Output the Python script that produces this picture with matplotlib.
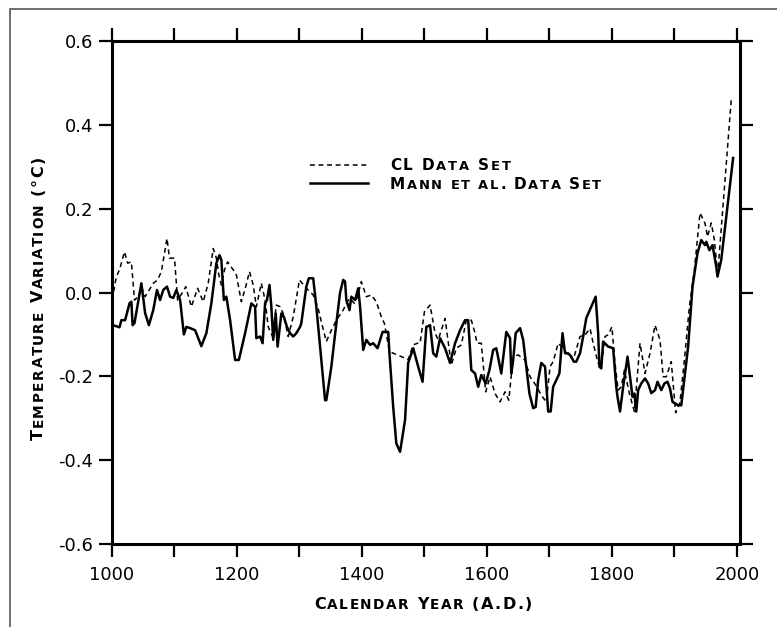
import matplotlib
matplotlib.use("Agg")
import matplotlib.pyplot as plt
from matplotlib.lines import Line2D
from matplotlib.patches import Rectangle
from matplotlib.transforms import IdentityTransform

# ---- data ----
mann_year = [1002, 1012, 1015, 1021, 1028, 1031, 1033, 1036, 1047, 1053, 1059, 1066, 1072,
             1077, 1082, 1088, 1093, 1098, 1103, 1109, 1115, 1119, 1125, 1133, 1143, 1151,
             1159, 1167, 1172, 1175, 1179, 1183, 1189, 1197, 1203, 1213, 1223, 1229, 1231,
             1237, 1241, 1245, 1248, 1252, 1255, 1258, 1262, 1265, 1271, 1275, 1280, 1285,
             1290, 1295, 1301, 1303, 1311, 1315, 1322, 1327, 1333, 1341, 1343, 1351, 1359,
             1365, 1370, 1373, 1375, 1380, 1383, 1389, 1394, 1397, 1402, 1407, 1413, 1418,
             1425, 1433, 1442, 1444, 1450, 1455, 1461, 1469, 1474, 1482, 1490, 1497, 1503,
             1509, 1514, 1519, 1525, 1533, 1541, 1549, 1557, 1565, 1570, 1575, 1581, 1586,
             1591, 1598, 1604, 1610, 1615, 1623, 1631, 1637, 1639, 1642, 1646, 1653, 1658,
             1663, 1668, 1674, 1678, 1682, 1687, 1693, 1698, 1702, 1706, 1711, 1716, 1721,
             1725, 1730, 1735, 1739, 1743, 1749, 1754, 1759, 1767, 1774, 1778, 1780, 1783,
             1786, 1794, 1802, 1807, 1809, 1813, 1818, 1825, 1829, 1833, 1836, 1839, 1842,
             1847, 1853, 1858, 1863, 1869, 1873, 1879, 1884, 1889, 1893, 1897, 1906, 1911,
             1922, 1929, 1937, 1943, 1949, 1951, 1956, 1961, 1967, 1969, 1975, 1994]
mann_temp = [-0.078, -0.083, -0.066, -0.066, -0.026, -0.022, -0.078, -0.073, 0.022, -0.049,
             -0.078, -0.042, 0.006, -0.018, 0.006, 0.014, -0.010, -0.013, 0.006, -0.018,
             -0.100, -0.082, -0.085, -0.090, -0.128, -0.097, -0.026, 0.070, 0.089, 0.078,
             -0.018, -0.010, -0.066, -0.161, -0.161, -0.097, -0.026, -0.034, -0.109, -0.105,
             -0.121, -0.026, -0.018, 0.018, -0.034, -0.113, -0.050, -0.129, -0.050, -0.058,
             -0.082, -0.097, -0.105, -0.097, -0.082, -0.073, 0.014, 0.034, 0.034, -0.034,
             -0.129, -0.257, -0.257, -0.177, -0.074, 0.000, 0.030, 0.026, -0.018, -0.042,
             -0.010, -0.018, 0.010, -0.034, -0.137, -0.113, -0.125, -0.121, -0.133, -0.094,
             -0.094, -0.145, -0.273, -0.360, -0.380, -0.304, -0.168, -0.133, -0.177, -0.213,
             -0.082, -0.078, -0.145, -0.153, -0.109, -0.133, -0.168, -0.121, -0.090, -0.066,
             -0.066, -0.185, -0.193, -0.225, -0.197, -0.217, -0.185, -0.137, -0.133, -0.193,
             -0.094, -0.109, -0.193, -0.161, -0.097, -0.085, -0.113, -0.177, -0.241, -0.276,
             -0.273, -0.209, -0.168, -0.177, -0.284, -0.284, -0.225, -0.209, -0.193, -0.097,
             -0.145, -0.145, -0.153, -0.165, -0.165, -0.145, -0.105, -0.061, -0.034, -0.010,
             -0.097, -0.177, -0.181, -0.117, -0.129, -0.133, -0.225, -0.249, -0.284, -0.225,
             -0.153, -0.201, -0.249, -0.241, -0.284, -0.233, -0.217, -0.205, -0.217, -0.240,
             -0.233, -0.213, -0.233, -0.217, -0.213, -0.229, -0.261, -0.269, -0.269, -0.129,
             0.014, 0.094, 0.125, 0.113, 0.121, 0.101, 0.113, 0.062, 0.038, 0.078, 0.321]

cl_year = [1000, 1007, 1012, 1020, 1025, 1031, 1036, 1042, 1047, 1053, 1058, 1066, 1073,
           1079, 1088, 1092, 1100, 1105, 1112, 1118, 1127, 1137, 1146, 1154, 1162, 1167,
           1171, 1175, 1180, 1185, 1194, 1199, 1207, 1214, 1220, 1226, 1231, 1239, 1245,
           1250, 1257, 1263, 1269, 1274, 1282, 1290, 1300, 1311, 1322, 1330, 1335, 1343,
           1351, 1359, 1370, 1375, 1380, 1388, 1393, 1399, 1407, 1415, 1423, 1431, 1436,
           1444, 1457, 1474, 1482, 1489, 1493, 1500, 1509, 1517, 1522, 1533, 1543, 1551,
           1559, 1567, 1575, 1581, 1584, 1591, 1598, 1605, 1613, 1621, 1629, 1635, 1642,
           1650, 1661, 1669, 1680, 1687, 1695, 1701, 1706, 1714, 1722, 1730, 1738, 1749,
           1757, 1765, 1770, 1778, 1783, 1789, 1794, 1800, 1805, 1810, 1815, 1820, 1828,
           1836, 1845, 1853, 1861, 1869, 1877, 1882, 1887, 1895, 1902, 1909, 1916, 1924,
           1932, 1941, 1949, 1953, 1959, 1964, 1967, 1969, 1991]
cl_temp = [-0.018, 0.038, 0.054, 0.097, 0.070, 0.073, -0.018, -0.010, 0.014, -0.010, 0.002,
           0.022, 0.030, 0.050, 0.129, 0.082, 0.082, -0.018, -0.002, 0.014, -0.034, 0.010,
           -0.022, 0.022, 0.105, 0.082, 0.042, 0.018, 0.054, 0.073, 0.054, 0.042, -0.022,
           0.014, 0.050, 0.018, -0.034, 0.022, -0.018, -0.082, -0.105, -0.030, -0.034,
           -0.050, -0.105, -0.058, 0.030, 0.010, -0.006, -0.038, -0.070, -0.117, -0.090,
           -0.066, -0.042, -0.026, -0.014, -0.026, -0.010, 0.026, -0.010, -0.006, -0.022,
           -0.058, -0.074, -0.141, -0.149, -0.160, -0.125, -0.121, -0.121, -0.046, -0.030,
           -0.097, -0.113, -0.062, -0.173, -0.133, -0.125, -0.066, -0.066, -0.097, -0.121,
           -0.121, -0.237, -0.201, -0.241, -0.261, -0.237, -0.257, -0.153, -0.149, -0.161,
           -0.201, -0.225, -0.245, -0.261, -0.177, -0.165, -0.121, -0.133, -0.149, -0.161,
           -0.105, -0.101, -0.086, -0.121, -0.169, -0.177, -0.105, -0.101, -0.082, -0.169,
           -0.233, -0.225, -0.185, -0.241, -0.284, -0.121, -0.193, -0.145, -0.078, -0.113,
           -0.201, -0.201, -0.165, -0.287, -0.261, -0.161, -0.034, 0.054, 0.190, 0.165,
           0.133, 0.166, 0.125, 0.078, 0.037, 0.460]

x_major = [1000, 1200, 1400, 1600, 1800, 2000]
x_minor = [1100, 1300, 1500, 1700, 1900]
y_ticks = [-0.6, -0.4, -0.2, 0.0, 0.2, 0.4, 0.6]
y_labels = ["-0.6", "-0.4", "-0.2", "0.0", "0.2", "0.4", "0.6"]

W, H = 777, 627
LABEL_FONT = "DejaVu Sans"


def caps_text(fig, x, y, s, size, ratio=0.85, rotation=0, align="center", track=1.5):
    """small-caps text with letter spacing, pixel coords (x, y = baseline, image y down)"""
    r = fig.canvas.get_renderer()
    pieces = [(ch.upper(), size * ratio if ch.islower() else size) for ch in s]

    def width(t, sz):
        a = fig.text(0, 0, "|" + t + "|", fontsize=sz, family=LABEL_FONT, weight="bold")
        b = fig.text(0, 0, "||", fontsize=sz, family=LABEL_FONT, weight="bold")
        w = a.get_window_extent(r).width - b.get_window_extent(r).width
        a.remove()
        b.remove()
        return w

    widths = [width(t, sz) for t, sz in pieces]
    total = sum(widths) + track * (len(pieces) - 1)
    pos = -total / 2 if align == "center" else 0
    for (t, sz), w in zip(pieces, widths):
        if rotation == 0:
            px, py = x + pos, H - y
        else:
            px, py = x, H - y + pos
        if t != " ":
            fig.text(px, py, t, fontsize=sz, family=LABEL_FONT, weight="bold",
                     rotation=rotation, rotation_mode="anchor", ha="left",
                     va="baseline", transform=IdentityTransform())
        pos += w + track


fig = plt.figure(figsize=(W / 100, H / 100), dpi=100)
ax = fig.add_axes([112 / W, 1 - 544 / H, (740 - 112) / W, (544 - 41) / H])

ax.plot(cl_year, cl_temp, color="black", lw=1.1, dashes=(3.2, 2.4))
ax.plot(mann_year, mann_temp, color="black", lw=1.8)

ax.set_xlim(1000, 2005)
ax.set_ylim(-0.6, 0.6)
ax.set_xticks(x_major)
ax.set_xticks(x_minor, minor=True)
ax.set_yticks(y_ticks)
ax.set_yticklabels(y_labels)
for s in ax.spines.values():
    s.set_linewidth(2.2)
ax.tick_params(which="both", direction="out", length=9.5, width=1.6,
               top=True, right=True, labelsize=13, pad=4)
ax.tick_params(axis="x", pad=6)
for lab in ax.get_xticklabels() + ax.get_yticklabels():
    lab.set_family("DejaVu Sans")

# outer frame
fig.add_artist(Rectangle((10 / W, -0.05), 1.1, 1.05 - 9 / H, transform=fig.transFigure,
                         fill=False, edgecolor="#555555", lw=1.2))

# legend
fig.add_artist(Line2D([310 / W, 368 / W], [1 - 165 / H, 1 - 165 / H], color="black",
                      lw=1.1, dashes=(3.2, 2.4), transform=fig.transFigure))
fig.add_artist(Line2D([310 / W, 368 / W], [1 - 183 / H, 1 - 183 / H], color="black",
                      lw=1.8, transform=fig.transFigure))
caps_text(fig, 390, 170, "CL Data Set", 11, align="left", track=1.9)
caps_text(fig, 390, 189, "Mann et al. Data Set", 11, align="left", track=1.6)

# axis labels
caps_text(fig, 423, 609, "Calendar Year (A.D.)", 11.5)
caps_text(fig, 43, 298, "Temperature Variation (°C)", 11.5, rotation=90)

fig.savefig("out.png", dpi=100)
